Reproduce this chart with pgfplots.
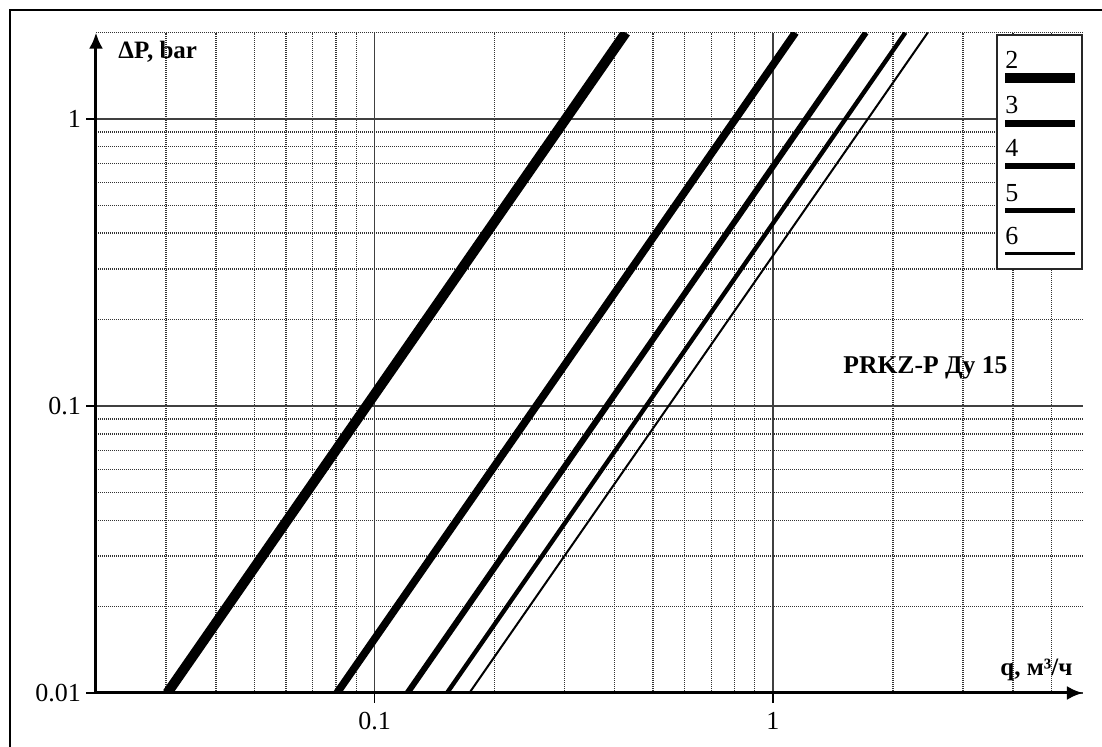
\documentclass[border=0pt]{standalone}
\usepackage{fontspec}
\setmainfont{Liberation Serif}
\usepackage{pgfplots}
\pgfplotsset{compat=1.18}
\usetikzlibrary{arrows.meta}
\begin{document}
\begin{tikzpicture}
\useasboundingbox (0pt,0pt) rectangle (551pt,373.5pt);
% outer frame (left and top edges visible)
\draw[line width=1pt] (5pt,0pt) -- (5pt,368.5pt) -- (551pt,368.5pt);
\begin{loglogaxis}[
  at={(48pt,27pt)}, anchor=south west,
  scale only axis, width=493.5pt, height=330.2pt,
  xmin=0.02, xmax=6, ymin=0.01, ymax=2,
  axis lines=left,
  axis line style={line width=1.5pt, -{Latex[length=8pt,width=7pt]}},
  xtick={0.1,1}, xticklabels={0.1,1},
  ytick={0.01,0.1,1}, yticklabels={0.01,0.1,1},
  minor xtick={0.03,0.04,0.05,0.06,0.07,0.08,0.09,0.2,0.3,0.4,0.5,0.6,0.7,0.8,0.9,2,3,4,5},
  minor ytick={0.02,0.03,0.04,0.05,0.06,0.07,0.08,0.09,0.2,0.3,0.4,0.5,0.6,0.7,0.8,0.9,2},
  /pgf/number format/assume math mode=true,
  tick label style={font=\fontsize{13}{15}\selectfont},
  major tick length=5pt, minor tick length=0pt,
  tick align=outside,
  tick style={black, line width=0.6pt},
  xticklabel style={yshift=-1pt},
  yticklabel style={xshift=1pt},
  grid=both,
  major grid style={black!75, line width=0.9pt},
  minor grid style={black!80, line width=0.7pt, dash pattern=on 0.5pt off 0.5pt},
  clip=true,
]
\addplot[black, line width=5pt] coordinates {(0.0302,0.01) (0.4271,2)};
\addplot[black, line width=3.8pt] coordinates {(0.0805,0.01) (1.1384,2)};
\addplot[black, line width=3pt] coordinates {(0.121,0.01) (1.7112,2)};
\addplot[black, line width=2.2pt] coordinates {(0.152,0.01) (2.1496,2)};
\addplot[black, line width=1pt] coordinates {(0.173,0.01) (2.4466,2)};
\end{loglogaxis}
% axis titles
\node[anchor=west, font=\bfseries\fontsize{12.5}{14}\selectfont, inner sep=0pt] at (59pt,347.5pt) {Δ{}P, bar};
\node[anchor=base west, font=\bfseries\fontsize{12.5}{14}\selectfont, inner sep=0pt] at (500pt,35.5pt) {q, м³/ч};
\node[anchor=base west, font=\bfseries\fontsize{12.8}{14}\selectfont, inner sep=0pt] at (421.5pt,186.5pt) {PRKZ-P Ду 15};
% legend
\draw[line width=1pt, black!85, fill=white] (498.5pt,356pt) rectangle (541pt,239pt);
\foreach \d/\yb/\yl/\lw in {2/69/78/5pt, 3/114/123.7/3.7pt, 4/157/166.3/3pt, 5/202/210.8/2.4pt, 6/245/253.3/1.6pt}{
  \node[anchor=base west, font=\fontsize{13}{15}\selectfont, inner sep=0pt] at (502.5pt,{(747-\yb)/2*1pt}) {\d};
  \draw[line width=\lw, black] (502.5pt,{(747-\yl)/2*1pt}) -- (537.5pt,{(747-\yl)/2*1pt});
}
\end{tikzpicture}
\end{document}
